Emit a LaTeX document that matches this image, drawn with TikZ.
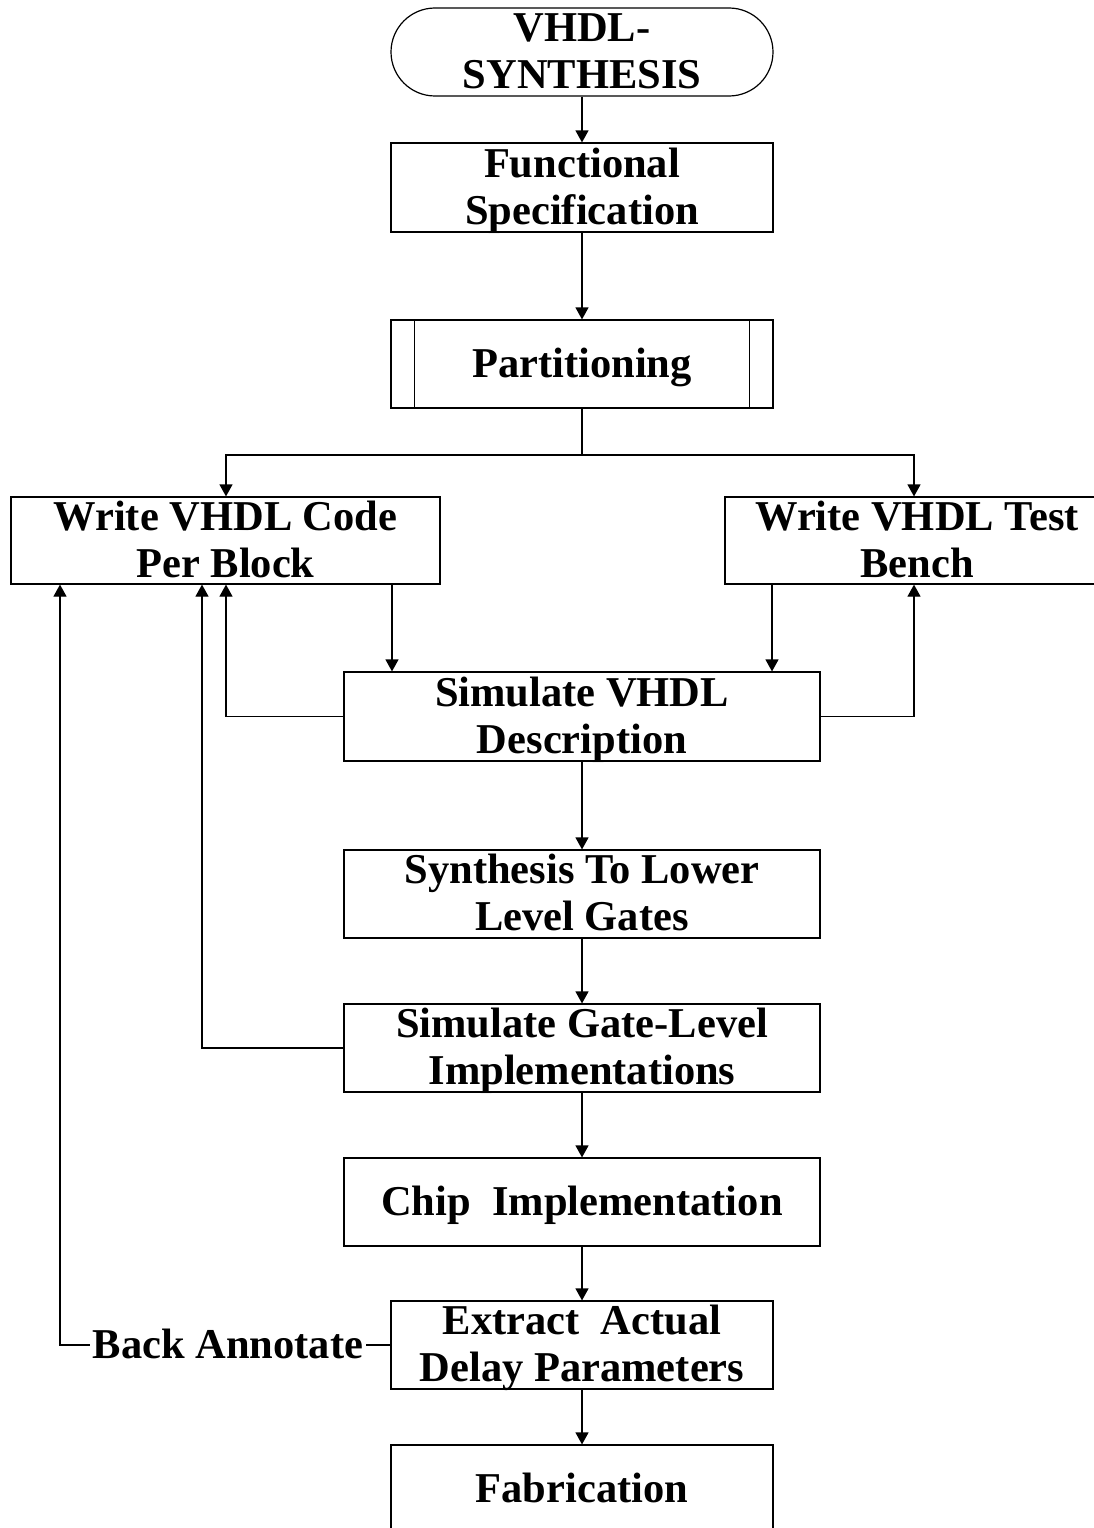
\documentclass[tikz,border=0pt]{standalone}
\usepackage{fontspec}
\setmainfont{Liberation Serif}
\usetikzlibrary{arrows.meta}

% box label: fixed-size parbox, lines centred horizontally and (slightly low) vertically
\newcommand\boxtext[3]{\parbox[c][#2][c]{#1}{\vspace*{8pt}\centering\strut #3\strut}}

\begin{document}
\begin{tikzpicture}[x=1pt,y=-1pt,
  every node/.style={font=\fontsize{42.5}{47}\selectfont\bfseries, inner sep=0pt},
  box/.style={draw, line width=1.2pt, rectangle},
  arr/.style={-{Triangle[length=12pt,width=13pt]}, line width=1.2pt},
  link/.style={line width=1.2pt}]
\useasboundingbox (0,0) rectangle (1094,1528);

% main flow
\node[box, rounded corners=44pt] (term) at (582,52)   {\boxtext{382pt}{88pt}{VHDL-\\SYNTHESIS}};
\node[box] (func)  at (582,187.5) {\boxtext{382pt}{89pt}{Functional\\Specification}};
\node[box] (part)  at (582,364)   {\boxtext{382pt}{88pt}{Partitioning}};
\node[box] (code)  at (225.5,540.5) {\boxtext{429pt}{87pt}{Write VHDL Code\\Per Block}};
\node[box] (bench) at (917,540.5) {\boxtext{384pt}{87pt}{Write VHDL Test\\Bench}};
\node[box] (simv)  at (582,716.5) {\boxtext{476pt}{89pt}{Simulate VHDL\\Description}};
\node[box] (synth) at (582,894)   {\boxtext{476pt}{88pt}{Synthesis To Lower\\Level Gates}};
\node[box] (simg)  at (582,1048)  {\boxtext{476pt}{88pt}{Simulate Gate-Level\\Implementations}};
\node[box] (chip)  at (582,1202)  {\boxtext{476pt}{88pt}{Chip\ \ Implementation}};
\node[box] (extr)  at (582,1345)  {\boxtext{382pt}{88pt}{Extract\ \ Actual\\Delay Parameters}};
\node[box] (fab)   at (582,1489)  {\boxtext{382pt}{88pt}{Fabrication}};
\node[inner xsep=3pt] (ba) at (228,1349) {\strut Back Annotate};

% predefined-process side bars
\draw[link] ([xshift=24pt]part.north west) -- ([xshift=24pt]part.south west);
\draw[link] ([xshift=-24pt]part.north east) -- ([xshift=-24pt]part.south east);

% vertical lanes
\coordinate (l60)  at (60,0);
\coordinate (l202) at (202,0);
\coordinate (l226) at (226,0);
\coordinate (l392) at (392,0);
\coordinate (l772) at (772,0);
\coordinate (l914) at (914,0);
\coordinate (split) at (582,455);

% connectors
\draw[arr] (term) -- (func);
\draw[arr] (func) -- (part);
\draw[link] (part.south) -- (split);
\draw[arr] (split) -| (l226 |- code.north);
\draw[arr] (split) -| (l914 |- bench.north);
\draw[arr] (l392 |- code.south) -- (l392 |- simv.north);
\draw[arr] (l772 |- bench.south) -- (l772 |- simv.north);
\draw[arr] (simv.west) -| (l226 |- code.south);
\draw[arr] (simv.east) -| (l914 |- bench.south);
\draw[arr] (simv) -- (synth);
\draw[arr] (synth) -- (simg);
\draw[arr] (simg.west) -| (l202 |- code.south);
\draw[arr] (simg) -- (chip);
\draw[arr] (chip) -- (extr);
\draw[arr] (extr) -- (fab);
\draw[link] (extr.west) -- (extr.west -| ba.east);
\draw[arr] (extr.west -| ba.west) -| (l60 |- code.south);
\end{tikzpicture}
\end{document}
